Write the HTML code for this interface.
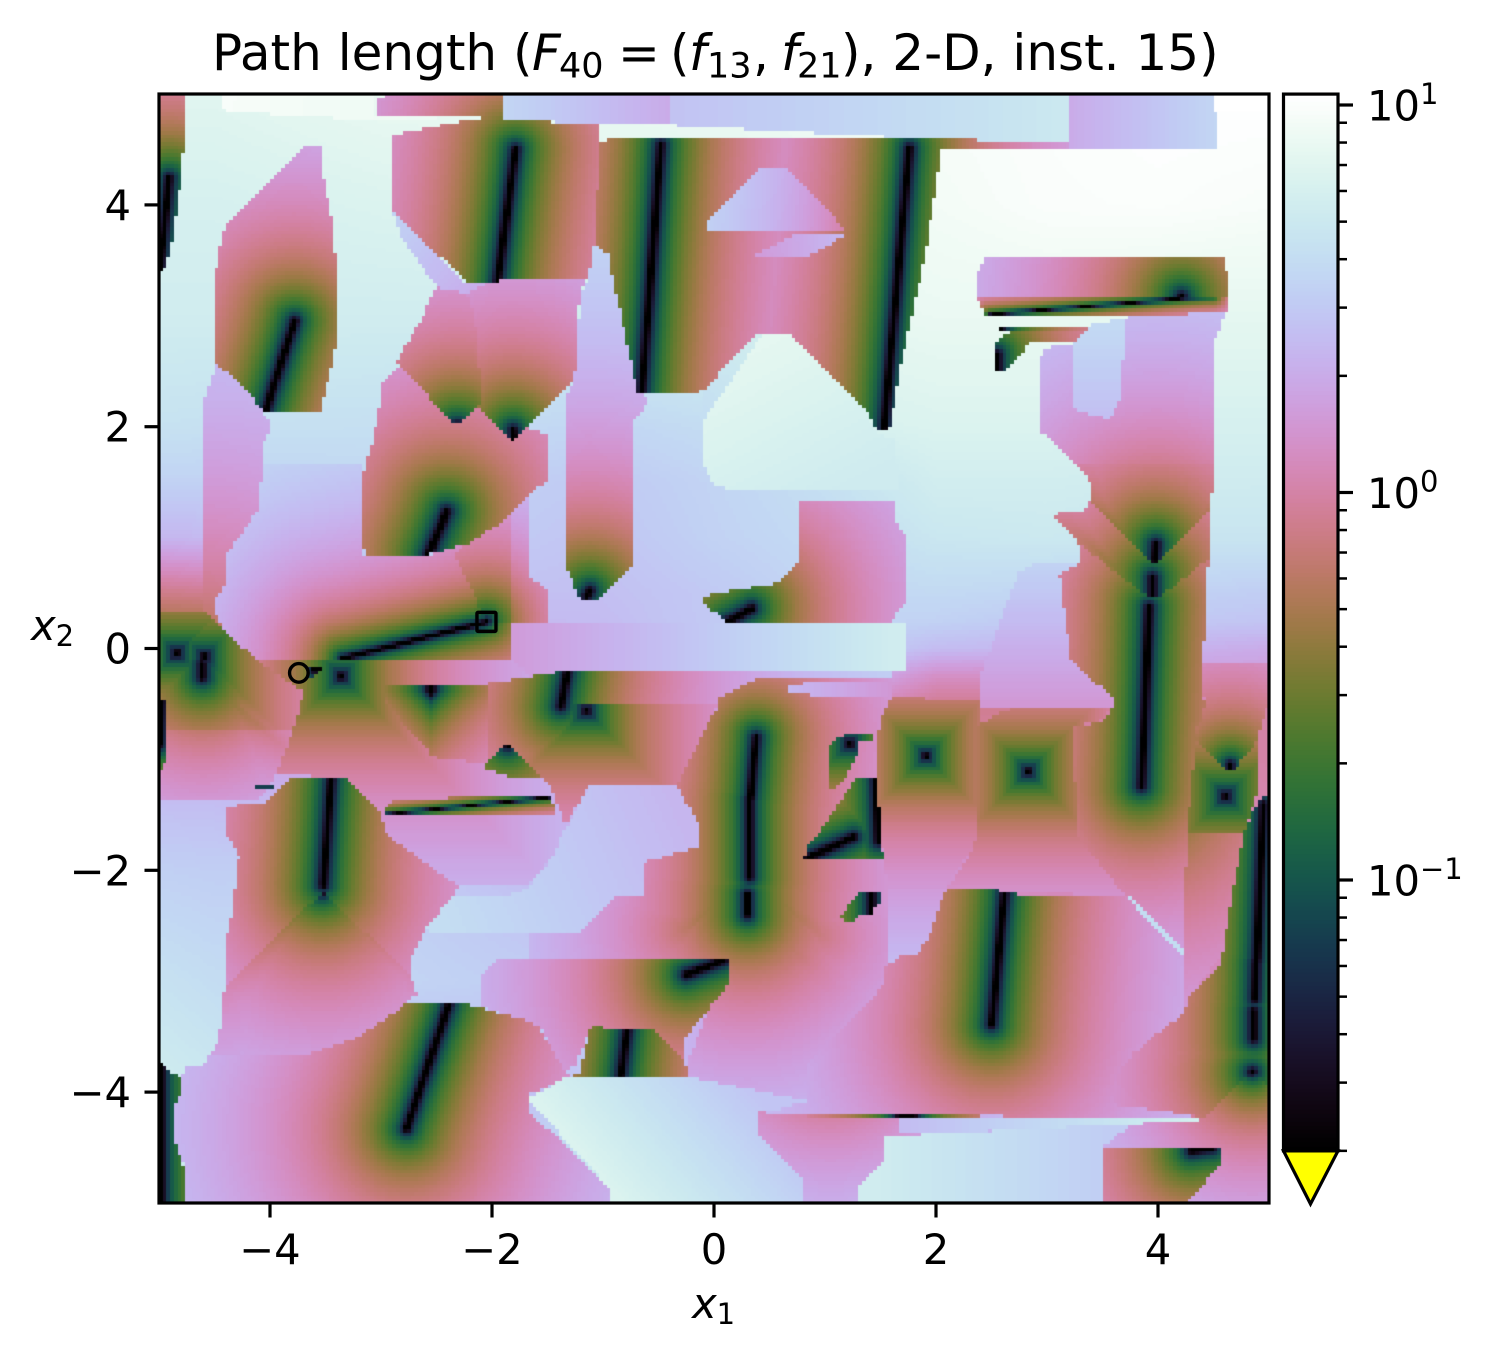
<!DOCTYPE html>
<html lang="en">
<head>
<meta charset="utf-8">
<title>Path length F40</title>
<style>
html,body{margin:0;padding:0;background:#fff;}
#fig{position:relative;width:1493px;height:1359px;overflow:hidden;background:#fff;}
canvas{position:absolute;left:0;top:0;}
svg{position:absolute;left:0;top:0;}
text{font-family:"DejaVu Sans","Liberation Sans",sans-serif;fill:#000;}
</style>
</head>
<body>
<div id="fig">
<canvas id="heat" width="1493" height="1359"></canvas>
<svg id="ov" width="1493" height="1359" viewBox="0 0 1493 1359">
<text x="212" y="70" font-size="50">Path length (<tspan x="532" font-style="italic">F</tspan><tspan x="559" font-size="35" dy="7.5">40</tspan><tspan x="618" dy="-7.5">=</tspan><tspan x="670">(</tspan><tspan x="689" font-style="italic">f</tspan><tspan x="707" font-size="35" dy="7.5">13</tspan><tspan x="753" dy="-7.5">,</tspan><tspan x="781" font-style="italic">f</tspan><tspan x="797" font-size="35" dy="7.5">21</tspan><tspan x="841" dy="-7.5">), 2-D, inst. 15)</tspan></text>
<text x="692" y="1318" font-size="41.67" font-style="italic">x<tspan font-size="29" font-style="normal" dy="6">1</tspan></text>
<text x="31" y="640" font-size="41.67" font-style="italic">x<tspan font-size="29" font-style="normal" dy="6">2</tspan></text>
</svg>
</div>
<script>
var xTicks = [-4, -2, 0, 2, 4];
var yTicks = [-4, -2, 0, 2, 4];
var cbarMajor = [10, 1, 0.1];
var cbarMajorExp = ['1', '0', '\u22121'];
var cbarMinor = [9, 8, 7, 6, 5, 4, 3, 2, 0.9, 0.8, 0.7, 0.6, 0.5, 0.4, 0.3, 0.2, 0.09, 0.08, 0.07, 0.06, 0.05, 0.04, 0.03, 0.02];
var vMin = 0.02;
var vMax = 10.67;
var startPoint = [-3.74, -0.22];
var endPoint = [-2.05, 0.24];
var gridSize = 300;

var baseX = [-5, -4.5, -3, -1, 0, 1, 2, 3, 4, 5];
var baseY = [5, 4, 3, 2, 1.5, 1, 0.5, 0.25, 0, -0.25, -0.5, -1, -2, -3, -4, -5];
var baseValues = [
[7,7,8,8,8,8.5,9.5,10,10.5,10.6],
[6,6,6.5,7,7.5,8,9,9.8,10,9.5],
[5.5,5.5,5.5,5.5,6.5,7.5,8,8,7.5,7.5],
[4.4,4.3,4.2,3.6,4,6,6.5,6.5,6,6],
[3.4,3.4,3.7,3,3.5,4.2,5.6,5.6,5.4,5.3],
[2.3,2.4,3.4,2.8,3.4,3.9,4.8,5,4.6,4.6],
[0.8,0.85,2.8,2.6,3,3.6,3.8,3.6,3.4,3.2],
[0.5,0.5,2.2,2.5,3,3.6,3.4,3,3,2.8],
[1.2,1.3,1.5,2.2,2.8,3.6,2.5,2.3,2.2,2],
[1.2,1.3,1.4,1.8,2.2,2.6,1.3,1.3,1.6,1.6],
[1.4,1.5,1.3,1.6,1.6,1.6,0.85,0.85,1.1,1],
[2.2,2.2,1.4,1.6,1.6,1.5,1,1,1.1,1],
[3.3,3.2,3.3,2.2,2,2,1.5,1.2,1.1,1.2],
[4.4,4,3.6,3,1.8,1.5,1.2,1.2,1.2,1.2],
[5.5,5,2,3,2.2,2,2,1.8,1.5,1.5],
[5,5,3,6,5,5,5,4.5,3,2]
];

/* Basins of the heatmap, back to front, in x1/x2 data coordinates.
   p: outline; s + k: value = k * (distance to nearest attractor + taper);
   an attractor is [x1,y1,x2,y2,taper1,taper2,metric] (metric 1 = max norm, 2 = sum norm);
   r: log ramp between two sampled values. */
var regions = [
{p:[-4.44,4.99,-3.05,4.99,-3.05,4.81,-2.2,4.77,-3.37,4.78,-4.41,4.84], r:[-4.4,4.95,9.5,-2.2,4.8,8]},
{p:[-1.91,4.99,-0.41,4.99,-0.41,4.72,-0.94,4.72,-1.91,4.78], r:[-1.9,4.9,3.6,-0.41,4.9,2]},
{p:[-0.41,4.99,3.21,4.99,3.21,4.55,1.67,4.61,-0.41,4.72], r:[-0.41,4.9,2.7,3.2,4.9,5]},
{p:[3.21,4.99,4.49,4.99,4.49,4.86,4.53,4.81,4.53,4.5,3.21,4.5], r:[3.21,4.8,2,4.53,4.8,3.6]},
{p:[-4.49,2.56,-4.34,2.47,-4.16,2.29,-4.07,2.13,-3.99,2.02,-4.05,1.86,-4.07,1.66,-4.61,1.66,-4.59,2.24], s:[[-4.59,-0.07,-4.59,-0.07,0.5,0.5]], k:0.75},
{p:[-4.61,1.66,-4.07,1.66,-4.1,1.27,-4.31,0.96,-4.39,0.85,-4.39,0.59,-4.52,0.4,-4.43,0.19,-4.61,0.19], s:[[-4.59,-0.07,-4.59,-0.07,0.5,0.5]], k:0.75},
{p:[-4.07,1.66,-3.18,1.66,-3.18,0.84,-2.57,0.84,-2.21,0.95,-1.94,1.12,-1.67,1.37,-1.67,0.67,-1.51,0.51,-1.51,0.19,-1.83,0.19,-1.84,-0.1,-4.13,-0.1,-4.43,0.19,-4.52,0.4,-4.39,0.59,-4.39,0.85,-4.31,0.96,-4.1,1.27], s:[[-3.35,-0.09,-2.05,0.24]], k:1.8},
{p:[-2.05,0.24,-2.34,0.86,-2.21,0.95,-1.94,1.12,-1.83,1.22,-1.83,0.22], s:[[-3.35,-0.09,-2.05,0.24]], k:1.4},
{p:[-1.84,0.22,1.72,0.22,1.72,-0.21,-1.66,-0.21,-1.84,-0.1], r:[-1.8,0,1.6,1.7,0,5.6]},
{p:[-3.01,4.97,-3.05,4.9,-3.03,4.8,-1.91,4.78,-1.91,4.99,-2.96,4.99], s:[[-1.79,4.5,-1.95,3.31]], k:1.1},
{p:[-2.91,4.63,-2.29,4.75,-1.93,4.78,-1.03,4.72,-1.03,3.66,-1.08,3.66,-1.13,3.35,-1.67,3.3,-2.23,3.3,-2.91,3.97], s:[[-1.79,4.5,-1.95,3.31]], k:1.1},
{p:[-1.33,1.97,-1.33,0.75,-1.21,0.44,-1.03,0.44,-0.73,0.74,-0.73,2.06,-0.57,2.24,-0.69,2.31,-0.77,2.68,-0.88,3.19,-0.95,3.55,-1.08,3.66,-1.13,3.35,-1.2,3.19,-1.24,2.62,-1.26,2.41,-1.33,2.29], s:[[-1.15,0.47,-1.12,0.52]], k:1.1},
{p:[-1.03,4.57,-0.91,4.6,1.67,4.61,3.21,4.55,3.21,4.5,2.05,4.5,1.91,3.59,1.67,2.49,1.58,1.97,1.46,1.97,1.38,2.13,0.66,2.85,0.41,2.85,-0.07,2.35,-0.14,2.31,-0.69,2.31,-0.77,2.68,-0.88,3.19,-0.95,3.55,-1.07,3.67,-1.05,4.15], s:[[-0.48,4.54,-0.65,2.31],[1.76,4.51,1.53,1.99]], k:1.1},
{p:[-0.06,3.84,0.43,4.34,0.65,4.35,1.19,3.77,-0.06,3.76], s:[[1.76,4.51,1.53,1.99]], k:1.9},
{p:[0.32,3.52,0.83,3.52,1.19,3.73,0.77,3.75], r:[0.4,3.6,1.6,1.19,3.7,2.4]},
{p:[-0.14,2.29,0.41,2.85,0.43,2.83,-0.09,2.06,-0.09,2.3], r:[-0.1,2.2,4.2,0.4,2.8,5.6]},
{p:[0.43,2.83,0.66,2.85,1.38,2.13,1.46,1.95,1.63,1.88,1.67,1.43,0.13,1.43,-0.02,1.5,-0.09,1.66,-0.09,2.06], r:[0.5,2.8,7.5,1.2,1.45,5.3]},
{p:[-3.67,4.55,-3.55,4.55,-3.53,4.3,-3.45,3.91,-3.41,3.49,-3.39,3.08,-3.41,2.74,-3.45,2.53,-3.5,2.35,-3.55,2.13,-4.07,2.13,-4.16,2.29,-4.34,2.47,-4.49,2.56,-4.5,3.07,-4.48,3.52,-4.41,3.79,-4.22,4,-4.01,4.21], s:[[-3.78,2.95,-4.04,2.14]], k:1.1},
{p:[-5,4.99,-4.78,4.99,-4.78,4.5,-4.8,4.25,-4.83,4.05,-4.88,3.68,-4.95,3.43,-5,3.4], s:[[-4.91,4.24,-4.99,3.43]], k:1.1},
{p:[-2.9,3.95,-2.23,3.29,-2,3.31,-2.21,3.16,-2.5,3.26,-2.83,3.73], r:[-2.9,3.9,3.4,-2.1,3.2,2]},
{p:[-3.14,1.66,-3.08,1.86,-3.02,2.14,-2.99,2.4,-2.8,2.6,-2.36,2.1,-2.3,2.1,-2.09,2.3,-1.82,1.95,-1.67,1.99,-1.49,1.93,-1.49,1.54,-1.67,1.37,-1.94,1.12,-2.21,0.95,-2.57,0.85,-3.14,0.84,-3.18,1.05,-3.18,1.39], s:[[-2.41,1.23,-2.57,0.85]], k:1},
{p:[-2.25,3.19,-2,3.31,-1.67,3.34,-1.17,3.34,-1.22,3.07,-1.23,2.65,-1.26,2.41,-1.82,1.86,-2.2,2.24,-2.2,2.53,-2.25,3.04], s:[[-1.8,1.88,-1.81,1.97]], k:1.1},
{p:[-2.5,3.26,-2.54,3.19,-2.63,2.98,-2.86,2.59,-2.36,2.04,-2.3,2.02,-2.09,2.23,-2.12,2.59,-2.16,3.01,-2.21,3.16,-2.3,3.22], s:[[-2.32,2.01,-2.3,2.01]], k:1.1},
{p:[-0.09,0.47,0.11,0.51,0.33,0.55,0.56,0.59,0.77,0.77,0.78,1.32,1.64,1.32,1.64,1.14,1.72,1.03,1.74,0.44,1.59,0.24,0.12,0.24,0,0.33,-0.09,0.4], s:[[0.34,0.36,0.12,0.24]], k:1.1},
{p:[-4.13,-0.1,-3.69,-0.39,-3.8,-0.75,-3.87,-0.95,-3.95,-1.14,-3.33,-1.16,-3,-1.5,-2.95,-1.68,-2.3,-2.15,-1.67,-2.13,-1.46,-1.88,-1.37,-1.68,-0.77,-1.23,-0.95,-0.71,-1.2,-0.5,-1.67,-0.26,-1.84,-0.1,-3.35,-0.1], s:[[-3.36,-0.25,-3.36,-0.25,0,0,1]], k:1.1},
{p:[-5,0.35,-4.61,0.35,-4.43,0.19,-4.13,-0.1,-3.69,-0.39,-3.8,-0.75,-5,-0.75], s:[[-4.84,-0.04,-4.84,-0.04,0,0,1],[-4.59,-0.07,-4.59,-0.07,0,0,1],[-4.61,-0.14,-4.61,-0.26],[-4.61,-0.26,-3.75,-1,0.15,0.8]], k:1.1},
{p:[-5,-0.75,-3.8,-0.75,-3.87,-0.95,-3.95,-1.14,-4.09,-1.36,-5,-1.36], s:[[-4.84,-0.04,-4.84,-0.04,0,0,1],[-4.61,-0.14,-4.61,-0.26],[-4.61,-0.26,-3.75,-1,0.15,0.8]], k:1.35},
{p:[-5,-0.46,-4.93,-0.46,-4.93,-0.86,-4.96,-1.11,-5,-1.11], s:[[-4.98,-0.46,-5,-0.86]], k:1.1},
{p:[-3.68,-0.17,-3.53,-0.18,-3.62,-0.28,-3.67,-0.28], s:[[-3.6,-0.19,-3.53,-0.18]], k:1.1},
{p:[-2.05,-0.32,-1.67,-0.26,-1.35,-0.2,1.6,-0.2,1.6,-0.28,0.38,-0.28,0.14,-0.39,0.05,-0.44,0.03,-0.5,-2.05,-0.5], s:[[-1.32,-0.21,-1.38,-0.52]], k:1.1},
{p:[-2.05,-0.5,0.03,-0.5,-0.07,-0.73,-0.16,-0.89,-0.33,-1.24,-0.77,-1.23,-1.12,-1.23,-1.34,-1.59,-1.46,-1.27,-1.55,-1.18,-1.67,-1.05,-2.05,-1.05], s:[[-1.32,-0.21,-1.38,-0.52],[-1.15,-0.56,-1.15,-0.56,0,0,1]], k:1.1},
{p:[-2.95,-0.32,-2.05,-0.32,-2.05,-1.05,-2.2,-1.02,-2.54,-0.98,-2.57,-0.93,-2.95,-0.5], s:[[-2.55,-0.32,-2.55,-0.39,0,0,2]], k:1},
{p:[-1.87,-0.86,-2.09,-1.07,-1.85,-1.15,-1.55,-1.18,-1.67,-1.05], s:[[-1.87,-0.86,-1.86,-0.87]], k:1.1},
{p:[-2.3,-2.22,-1.85,-2.23,-1.67,-2.15,-1.46,-1.88,-1.37,-1.68,-1.12,-1.23,-0.33,-1.24,-0.14,-1.47,-0.14,-1.68,-0.15,-1.79,-0.65,-1.93,-0.65,-2.24,-0.88,-2.24,-1.19,-2.55,-1.67,-2.56,-2.57,-2.55,-2.59,-2.51,-2.36,-2.24], r:[-2.4,-2.4,4,-0.3,-1.5,2.3]},
{p:[-3.81,-1.15,-3.33,-1.16,-3,-1.5,-2.95,-1.68,-2.3,-2.15,-2.36,-2.24,-2.59,-2.51,-2.72,-2.78,-2.73,-2.94,-3.53,-2.2,-4.41,-3.05,-4.39,-2.58,-4.35,-2.42,-4.31,-2.13,-4.28,-1.86,-4.39,-1.68,-4.41,-1.5,-4.39,-1.42,-4.07,-1.41,-3.95,-1.29], s:[[-3.45,-1.15,-3.52,-2.13]], k:1.1},
{p:[-3.53,-2.2,-2.73,-2.94,-2.68,-3.12,-2.77,-3.19,-2.9,-3.3,-3.2,-3.5,-3.71,-3.68,-4.55,-3.68,-4.46,-3.54,-4.43,-3.23,-4.41,-3.05], s:[[-3.53,-2.19,-3.53,-2.19],[-3.53,-2.19,-4.41,-3.05,0.05,1],[-3.53,-2.19,-2.73,-2.94,0.05,1]], k:1.1},
{p:[-4.13,-1.22,-3.96,-1.22,-3.96,-1.25,-4.13,-1.25], r:[-4.13,-1.22,0.07,-3.96,-1.22,0.07]},
{p:[-2.99,-1.5,-2.9,-1.38,-1.88,-1.32,-1.48,-1.32,-1.42,-1.45,-1.42,-1.5], s:[[-2.99,-1.5,-1.45,-1.34]], k:6},
{p:[-1.67,-2.56,-1.19,-2.55,-0.88,-2.24,-0.65,-2.24,-0.65,-1.93,-0.15,-1.79,-0.14,-1.59,-0.33,-1.24,-0.14,-0.84,0.03,-0.53,0.05,-0.44,0.14,-0.39,0.38,-0.28,1.6,-0.28,1.6,-0.44,1.49,-0.66,1.47,-1.68,1.53,-1.83,1.55,-2.04,1.55,-2.87,1.51,-3.05,1.33,-3.27,0.83,-3.75,0.83,-4.08,-0.24,-3.86,-0.25,-3.75,0.13,-2.8,-1.67,-2.8], s:[[0.38,-0.8,0.33,-1.34],[0.32,-1.36,0.32,-2.06],[0.3,-2.22,0.3,-2.4],[0.32,-2.06,-0.25,-2.53,0.05,0.5],[0.32,-2.06,0.95,-2.58,0.05,0.6],[0.3,-2.4,-0.1,-2.75,0.05,0.55],[0.3,-2.4,0.75,-2.75,0.05,0.55]], k:1.2},
{p:[0.65,-0.32,1.6,-0.3,1.59,-0.44,0.65,-0.41], r:[0.65,-0.35,2.4,1.6,-0.35,1.5]},
{p:[-1.94,-2.8,0.13,-2.8,0.13,-3,0.07,-3.12,-0.03,-3.23,-0.2,-3.43,-0.25,-3.5,-0.25,-3.75,-0.52,-3.45,-1.11,-3.41,-1.25,-3.75,-1.35,-3.82,-1.55,-3.43,-1.67,-3.37,-2.09,-3.23,-2.09,-2.94], s:[[0.09,-2.81,-0.25,-2.94]], k:1.1},
{p:[-1.11,-3.41,-0.54,-3.45,-0.25,-3.75,-0.24,-3.86,-1.29,-3.86,-1.2,-3.82,-1.17,-3.63], s:[[-0.78,-3.41,-0.84,-3.86]], k:1.1},
{p:[-2.77,-3.19,-2.3,-3.19,-2,-3.27,-1.67,-3.36,-1.58,-3.41,-1.49,-3.57,-1.37,-3.77,-1.29,-3.86,-1.67,-4.02,-1.67,-4.17,-0.92,-4.89,-0.92,-5,-4.75,-5,-4.75,-4.74,-4.88,-4.38,-4.88,-4.11,-4.8,-3.86,-4.73,-3.75,-4.59,-3.75,-4.55,-3.68,-3.71,-3.68,-3.2,-3.5,-2.9,-3.3], s:[[-2.39,-3.21,-2.77,-4.33]], k:1.1},
{p:[-5,-3.72,-4.9,-3.81,-4.8,-3.88,-4.8,-4.02,-4.88,-4.14,-4.88,-4.38,-4.81,-4.6,-4.75,-4.74,-4.75,-5,-5,-5], s:[[-4.98,-3.72,-4.98,-5]], k:1.1},
{p:[-1.68,-4.06,-1.35,-3.88,-0.24,-3.86,0.83,-4.08,0.41,-4.2,0.41,-4.4,0.81,-4.8,0.81,-5,-0.92,-5,-0.92,-4.89], r:[-0.9,-4.9,6.5,0.3,-3.9,2.8]},
{p:[0.41,-4.15,1.67,-4.15,4.37,-4.15,4.42,-4.2,4.85,-3.75,5,-3.8,5,-5,0.81,-5,0.81,-4.8,0.41,-4.4], s:[[1.05,-3.52,1.05,-3.52],[4.85,-3.82,4.85,-3.82]], k:1.4},
{p:[1.29,-5,1.29,-4.86,1.53,-4.63,1.53,-4.4,1.95,-4.38,3.08,-4.32,3.77,-4.29,3.49,-4.5,3.49,-5], r:[1.4,-4.7,5.5,3.5,-4.7,3.2]},
{p:[1.67,-4.22,4.37,-4.23,4.37,-4.26,3.08,-4.32,2.72,-4.34,1.95,-4.37,1.67,-4.38], r:[1.67,-4.3,2.5,4.37,-4.25,5.8]},
{p:[3.49,-4.5,4.58,-4.5,4.58,-4.63,4.31,-4.94,4.23,-5,3.49,-5], s:[[4.3,-4.53,4.49,-4.5]], k:1.1},
{p:[2.11,-2.16,2.64,-2.16,2.75,-2.24,3.71,-2.24,4.22,-2.76,4.23,-3.3,4.07,-3.41,3.77,-3.66,3.59,-3.9,3.59,-4.11,4.07,-4.17,4.37,-4.23,0.41,-4.2,0.83,-4.08,0.83,-3.75,1.33,-3.27,1.51,-3.05,1.55,-2.87,1.67,-2.78,1.8,-2.78,1.92,-2.64,2.05,-2.28], s:[[2.62,-2.17,2.5,-3.39]], k:1.1},
{p:[0.83,-4.19,2.41,-4.19,2.41,-4.22,0.83,-4.22], s:[[1.67,-4.2,1.8,-4.2]], k:1.1},
{p:[1.47,-0.84,1.49,-0.66,1.6,-0.44,2.21,-0.46,2.41,-0.48,2.37,-1.68,2.32,-1.83,2.14,-2.04,2.05,-2.28,1.92,-2.64,1.8,-2.78,1.67,-2.78,1.55,-2.87,1.55,-2.04,1.53,-1.83,1.47,-1.68], s:[[1.91,-0.97,1.91,-0.97,0,0,1]], k:1.3},
{p:[2.37,-0.71,2.5,-0.62,2.7,-0.53,3.59,-0.52,3.5,-0.64,3.24,-0.71,3.26,-1.68,3.71,-2.24,2.11,-2.16,2.32,-1.83,2.37,-1.68], s:[[2.83,-1.11,2.83,-1.11,0,0,1]], k:1.25},
{p:[2.75,0.69,2.91,0.78,3.31,0.78,3.11,0.68,3.22,-0.12,3.59,-0.44,3.59,-0.52,2.41,-0.52,2.41,-0.23,2.58,0.26], r:[3,0.75,3.4,3,-0.5,1.5]},
{p:[2.97,2.71,3.23,2.74,3.42,2.92,3.71,2.98,3.95,3.04,4.59,3.04,4.58,2.92,4.5,2.77,4.49,1.66,3.26,1.66,2.95,1.95,2.93,2.53], s:[[3.98,0.94,3.97,0.8]], k:1.15},
{p:[3.23,2.74,3.42,2.92,3.71,2.98,3.66,2.24,3.57,2.06,3.25,2.15], r:[3.4,2.9,3.8,3.4,2.1,2.6]},
{p:[3.11,0.68,3.2,0.71,3.31,0.78,3.29,1.1,3.95,0.6,4.47,1,4.43,0.46,4.41,-0.14,4.39,-0.39,4.42,-0.48,4.41,-0.62,4.35,-0.71,4.34,-0.84,4.26,-1.68,4.22,-2.76,3.71,-2.24,3.26,-1.68,3.24,-0.71,3.51,-0.66,3.59,-0.53,3.59,-0.44,3.22,-0.12,3.15,0.37], s:[[3.92,0.37,3.85,-1.24]], k:1.1},
{p:[3.18,1.23,3.35,1.25,3.41,1.4,3.97,0.9,4.48,1.4,4.47,0.82,4.01,0.46,3.92,0.46,3.29,0.94,3.05,1.21], s:[[3.95,0.64,3.95,0.46],[3.95,0.46,3.05,1.21,0.05,0.8],[3.95,0.46,4.47,0.82,0.05,0.6]], k:1.1},
{p:[3.26,1.66,3.41,1.48,3.41,1.32,3.95,0.78,3.99,0.78,4.48,1.28,4.49,1.66], s:[[3.98,0.94,3.97,0.8],[3.97,0.78,3.41,1.32,0.05,0.55],[3.97,0.78,4.48,1.28,0.05,0.55]], k:1.1},
{p:[4.26,-1.68,4.77,-1.68,4.67,-2.22,4.58,-2.76,4.28,-3.14,4.23,-3.3,4.22,-2.76], s:[[3.85,-1.24,3.85,-1.24]], k:0.75},
{p:[3.71,-2.24,3.75,-2.24,4.22,-2.72,4.22,-2.77], r:[3.7,-2.24,4,4.2,-2.7,4]},
{p:[4.34,-0.84,4.62,-1.05,4.67,-1.05,4.89,-0.84,4.9,-1.27,4.77,-1.68,4.26,-1.68], s:[[4.61,-1.33,4.61,-1.33,0,0,1]], k:1.1},
{p:[4.39,-0.14,5,-0.14,5,-0.46,4.89,-0.84,4.67,-1.11,4.62,-1.11,4.34,-0.84,4.35,-0.71,4.41,-0.62,4.42,-0.48], s:[[4.65,-1.09,4.65,-1.05],[4.65,-1.09,4.34,-0.84,0.05,0.4],[4.65,-1.09,4.89,-0.84,0.05,0.4]], k:1.3},
{p:[4.77,-1.68,4.85,-1.47,4.93,-1.36,5,-1.32,5,-3.93,4.85,-3.82,4.41,-4.23,4.07,-4.17,3.59,-4.11,3.59,-3.9,3.77,-3.66,4.07,-3.41,4.23,-3.3,4.28,-3.14,4.57,-2.85,4.58,-2.76,4.67,-2.22], s:[[4.95,-1.41,4.89,-2.8],[4.88,-2.83,4.87,-3.16],[4.86,-3.27,4.86,-3.52],[4.85,-3.82,4.85,-3.82],[4.88,-2.83,4.55,-3.2,0.05,0.6],[4.86,-3.27,4.2,-3.6,0.05,0.9],[4.85,-3.82,4.41,-4.23,0.05,0.9]], k:1.1},
{p:[2.45,3.53,4.59,3.53,4.62,3.4,4.64,3.17,2.37,3.17,2.37,3.37], s:[[4.21,3.17,4.21,3.17]], k:1.05},
{p:[2.37,3.15,4.64,3.18,4.62,3.04,3.85,2.99,2.47,2.99,2.41,3.07], s:[[2.48,3.01,4.5,3.18]], k:6},
{p:[2.55,2.89,3.39,2.89,3.3,2.86,2.58,2.86], s:[[2.55,2.88,2.58,2.88]], k:1},
{p:[2.68,2.86,3.33,2.86,3.24,2.77,2.86,2.77,2.63,2.51,2.52,2.5,2.52,2.76], s:[[2.55,2.65,2.55,2.5]], k:1.1},
{p:[1.19,-0.77,1.45,-0.77,1.45,-0.82,1.31,-0.84,1.29,-0.95,1.19,-1.16,1.03,-1.3,1.03,-0.89,1.08,-0.82], s:[[1.22,-0.86,1.22,-0.86,0,0,1]], k:1.1},
{p:[1.28,-1.16,1.47,-1.16,1.5,-1.74,1.53,-1.9,0.81,-1.9,0.83,-1.77,0.95,-1.66,1.01,-1.56], s:[[1.46,-1.16,1.48,-1.74],[0.84,-1.89,1.26,-1.7]], k:1.1},
{p:[1.13,-2.41,1.32,-2.2,1.5,-2.21,1.5,-2.26,1.42,-2.39,1.31,-2.4,1.23,-2.48,1.18,-2.47], s:[[1.42,-2.2,1.42,-2.39]], k:1.1}
];

/* ---------- axes ---------- */
function xAxis(v){ return 714 + 111 * v; }
function yAxis(v){ return 648.5 - 110.9 * v; }
function cbarAxis(v){ return 492.5 - 387.5 * (Math.log(v) / Math.LN10); }

/* ---------- colour ---------- */
function cubehelix(t){
  var a = t * (1 - t) / 2;
  var phi = 2 * Math.PI * (0.5 / 3 - 1.5 * t);
  var c = Math.cos(phi), s = Math.sin(phi);
  var r = t + a * (-0.14861 * c + 1.78277 * s);
  var g = t + a * (-0.29227 * c - 0.90649 * s);
  var b = t + a * (1.97294 * c);
  function q(u){ return Math.round(255 * Math.max(0, Math.min(1, u))); }
  return 'rgb(' + q(r) + ',' + q(g) + ',' + q(b) + ')';
}
var lutSize = 256;
var lut = [];
for (var li = 0; li < lutSize; li++) { lut.push(cubehelix(li / (lutSize - 1))); }
function colorOf(v){
  var t = (Math.log(Math.max(v, vMin) / vMin)) / Math.log(vMax / vMin);
  var n = Math.max(0, Math.min(lutSize - 1, Math.floor(t * lutSize)));
  return lut[n];
}

/* ---------- field ---------- */
function segDist(px, py, q){
  var dx = q[2] - q[0], dy = q[3] - q[1];
  var l = dx * dx + dy * dy;
  var t = l > 0 ? ((px - q[0]) * dx + (py - q[1]) * dy) / l : 0;
  t = Math.max(0, Math.min(1, t));
  var ex = Math.abs(px - q[0] - t * dx), ey = Math.abs(py - q[1] - t * dy);
  var d = q[6] === 1 ? Math.max(ex, ey) : (q[6] === 2 ? ex + ey : Math.sqrt(ex * ex + ey * ey));
  if (q.length > 4) { d += q[4] * (1 - t) + q[5] * t; }
  return d;
}
function inside(px, py, p){
  var c = false, n = p.length;
  for (var i = 0, j = n - 2; i < n; j = i, i += 2) {
    var yi = p[i + 1], yj = p[j + 1];
    if ((yi > py) !== (yj > py) && px < (p[j] - p[i]) * (py - yi) / (yj - yi) + p[i]) { c = !c; }
  }
  return c;
}
function baseField(px, py){
  var i = 0;
  while (i < baseX.length - 2 && px > baseX[i + 1]) { i++; }
  var j = 0;
  while (j < baseY.length - 2 && py < baseY[j + 1]) { j++; }
  var tx = Math.max(0, Math.min(1, (px - baseX[i]) / (baseX[i + 1] - baseX[i])));
  var ty = Math.max(0, Math.min(1, (py - baseY[j]) / (baseY[j + 1] - baseY[j])));
  var a = Math.log(baseValues[j][i]), b = Math.log(baseValues[j][i + 1]);
  var c = Math.log(baseValues[j + 1][i]), d = Math.log(baseValues[j + 1][i + 1]);
  return Math.exp((a * (1 - tx) + b * tx) * (1 - ty) + (c * (1 - tx) + d * tx) * ty);
}
var bounds = [];
regions.forEach(function(R){
  var b = [1e9, 1e9, -1e9, -1e9];
  for (var i = 0; i < R.p.length; i += 2) {
    b[0] = Math.min(b[0], R.p[i]);
    b[2] = Math.max(b[2], R.p[i]);
    b[1] = Math.min(b[1], R.p[i + 1]);
    b[3] = Math.max(b[3], R.p[i + 1]);
  }
  bounds.push(b);
});
function fieldAt(px, py){
  for (var n = regions.length - 1; n >= 0; n--) {
    var b = bounds[n];
    if (px < b[0] || px > b[2] || py < b[1] || py > b[3]) { continue; }
    var R = regions[n];
    if (!inside(px, py, R.p)) { continue; }
    if (R.s) {
      var d = 1e9;
      for (var k = 0; k < R.s.length; k++) { d = Math.min(d, segDist(px, py, R.s[k])); }
      return R.k * d;
    }
    var r = R.r;
    var dx = r[3] - r[0], dy = r[4] - r[1];
    var l = dx * dx + dy * dy;
    var t = Math.max(0, Math.min(1, ((px - r[0]) * dx + (py - r[1]) * dy) / l));
    return Math.exp(Math.log(r[2]) * (1 - t) + Math.log(r[5]) * t);
  }
  return baseField(px, py);
}

/* ---------- heatmap cells ---------- */
var ctx = document.getElementById('heat').getContext('2d');
var cellW = 10 / gridSize;
for (var ci = 0; ci < gridSize; ci++) {
  var xl = -5 + ci * cellW;
  var x0 = Math.round(xAxis(xl)), x1 = Math.round(xAxis(xl + cellW));
  for (var cj = 0; cj < gridSize; cj++) {
    var yb = 5 - cj * cellW;
    var y0 = Math.round(yAxis(yb)), y1 = Math.round(yAxis(yb - cellW));
    ctx.fillStyle = colorOf(fieldAt(xl + cellW / 2, yb - cellW / 2));
    ctx.fillRect(x0, y0, x1 - x0, y1 - y0);
  }
}

/* ---------- colorbar gradient ---------- */
var cbTop = cbarAxis(vMax), cbBottom = cbarAxis(vMin);
for (var cy = Math.floor(cbTop); cy < Math.ceil(cbBottom); cy++) {
  var vy = Math.pow(10, (492.5 - (cy + 0.5)) / 387.5);
  ctx.fillStyle = colorOf(vy);
  ctx.fillRect(1283, cy, 55, 1);
}

/* ---------- overlay ---------- */
var NS = 'http://www.w3.org/2000/svg';
var ov = document.getElementById('ov');
function add(tag){
  var el = document.createElementNS(NS, tag);
  ov.appendChild(el);
  return el;
}
function line(el, a, b, c, d, w){
  el.setAttribute('x1', a);
  el.setAttribute('y1', b);
  el.setAttribute('x2', c);
  el.setAttribute('y2', d);
  el.setAttribute('stroke', '#000');
  el.setAttribute('stroke-width', w);
}

var frame = add('rect');


frame.setAttribute('x', xAxis(-5));
frame.setAttribute('y', yAxis(5));
frame.setAttribute('width', xAxis(5) - xAxis(-5));
frame.setAttribute('height', yAxis(-5) - yAxis(5));
frame.setAttribute('fill', 'none');
frame.setAttribute('stroke', '#000');
frame.setAttribute('stroke-width', 3.2);

xTicks.forEach(function(v){
  var t = add('line');
  
  
  line(t, xAxis(v), yAxis(-5), xAxis(v), yAxis(-5) + 14.5, 3.2);
  var l = add('text');
  
  
  l.setAttribute('x', xAxis(v));
  l.setAttribute('y', 1264);
  l.setAttribute('font-size', 41.67);
  l.setAttribute('text-anchor', 'middle');
  l.textContent = String(v).replace('-', '\u2212');
});
yTicks.forEach(function(v){
  var t = add('line');
  
  
  line(t, xAxis(-5) - 14.5, yAxis(v), xAxis(-5), yAxis(v), 3.2);
  var l = add('text');
  
  
  l.setAttribute('x', 131);
  l.setAttribute('y', yAxis(v) + 15);
  l.setAttribute('font-size', 41.67);
  l.setAttribute('text-anchor', 'end');
  l.textContent = String(v).replace('-', '\u2212');
});

var startMark = add('circle');


startMark.setAttribute('cx', xAxis(startPoint[0]));
startMark.setAttribute('cy', yAxis(startPoint[1]));
startMark.setAttribute('r', 9.3);
startMark.setAttribute('fill', 'none');
startMark.setAttribute('stroke', '#000');
startMark.setAttribute('stroke-width', 3.4);

var endMark = add('rect');


endMark.setAttribute('x', xAxis(endPoint[0]) - 9.5);
endMark.setAttribute('y', yAxis(endPoint[1]) - 9.5);
endMark.setAttribute('width', 19);
endMark.setAttribute('height', 19);
endMark.setAttribute('rx', 1);
endMark.setAttribute('fill', 'none');
endMark.setAttribute('stroke', '#000');
endMark.setAttribute('stroke-width', 3.4);

var under = add('polygon');


under.setAttribute('points', '1283.5,' + cbBottom + ' 1338,' + cbBottom + ' 1310.5,1204');
under.setAttribute('fill', '#ffff00');
under.setAttribute('stroke', '#000');
under.setAttribute('stroke-width', 3.2);
under.setAttribute('stroke-linejoin', 'miter');

var cbFrame = add('rect');


cbFrame.setAttribute('x', 1283.5);
cbFrame.setAttribute('y', cbTop);
cbFrame.setAttribute('width', 54.5);
cbFrame.setAttribute('height', cbBottom - cbTop);
cbFrame.setAttribute('fill', 'none');
cbFrame.setAttribute('stroke', '#000');
cbFrame.setAttribute('stroke-width', 3.2);

cbarMinor.forEach(function(v){
  var t = add('line');
  
  
  line(t, 1338, cbarAxis(v), 1347, cbarAxis(v), 2.5);
});
cbarMajor.forEach(function(v, i){
  var t = add('line');
  
  
  line(t, 1338, cbarAxis(v), 1353, cbarAxis(v), 3.2);
  var l = add('text');
  
  
  l.setAttribute('x', 1367);
  l.setAttribute('y', cbarAxis(v) + 15.5);
  l.setAttribute('font-size', 41.67);
  l.textContent = '10';
  var e = add('text');
  
  
  e.setAttribute('x', 1420);
  e.setAttribute('y', cbarAxis(v) - 1);
  e.setAttribute('font-size', 29);
  e.textContent = cbarMajorExp[i];
});
</script>
</body>
</html>
